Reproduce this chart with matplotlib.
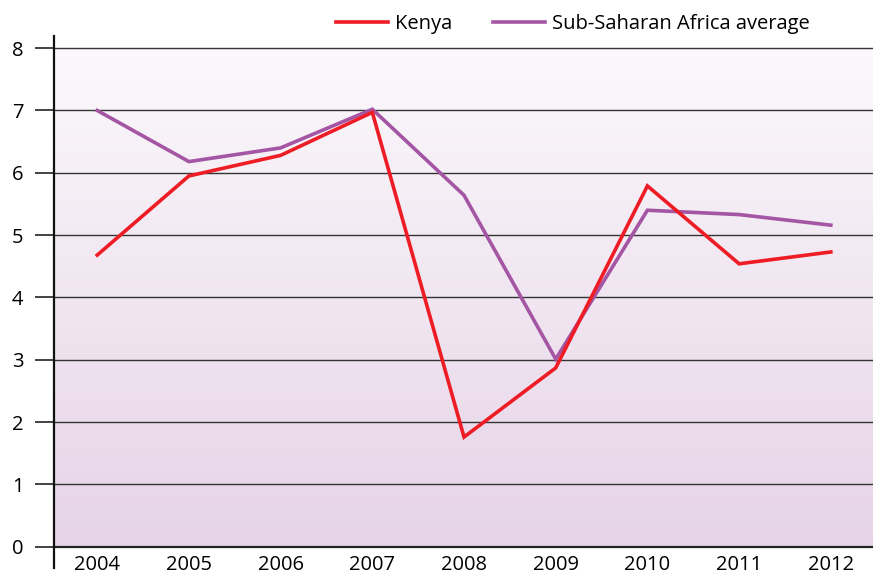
import matplotlib
matplotlib.use('Agg')
import matplotlib.pyplot as plt
import numpy as np
from matplotlib.colors import LinearSegmentedColormap

years = [2004, 2005, 2006, 2007, 2008, 2009, 2010, 2011, 2012]
kenya = [4.68, 5.95, 6.28, 6.97, 1.76, 2.87, 5.79, 4.54, 4.73]
ssa_avg = [7.0, 6.18, 6.40, 7.02, 5.64, 3.01, 5.40, 5.33, 5.16]
yticks = [0, 1, 2, 3, 4, 5, 6, 7, 8]

plt.rcParams['font.family'] = ['Open Sans', 'DejaVu Sans']

fig = plt.figure(figsize=(8.73, 5.76), dpi=100)
ax = fig.add_axes([0.062, 0.014, 0.938, 0.924])

# purple-ish vertical gradient behind the plot
cmap = LinearSegmentedColormap.from_list('bg', ['#e6d3e7', '#fbf9fb'])
grad = np.linspace(0, 1, 256).reshape(-1, 1)
ax.imshow(grad, aspect='auto', cmap=cmap, origin='lower',
          extent=(2003.5, 2012.5, 0, 8), zorder=0)

for v in yticks[1:]:
    ax.axhline(v, color='#333333', lw=1.0, zorder=1)
ax.axhline(0, color='#222222', lw=1.6, zorder=1)

ax.plot(years, ssa_avg, color='#a455a4', lw=2.6, label='Sub-Saharan Africa average',
        zorder=3, solid_joinstyle='miter')
ax.plot(years, kenya, color='#ee1c25', lw=2.6, label='Kenya', zorder=4,
        solid_joinstyle='miter')

ax.set_xlim(2003.53, 2012.46)
ax.set_ylim(-0.34, 8.2)
ax.set_yticks(yticks)
ax.set_xticks(years)
ax.tick_params(axis='y', length=14, width=1.2, labelsize=14.5, pad=8, color='#222222')
ax.tick_params(axis='x', length=0, labelsize=14.5, pad=-9.5)

for s in ['top', 'right', 'bottom']:
    ax.spines[s].set_visible(False)
ax.spines['left'].set_linewidth(1.6)
ax.spines['left'].set_color('#111111')

h, l = ax.get_legend_handles_labels()
fig.legend(h[::-1], l[::-1], loc='center', bbox_to_anchor=(0.656, 0.958), ncol=2,
           frameon=False, fontsize=14.5, handlelength=2.6, columnspacing=2.0,
           handletextpad=0.35)

fig.savefig('out.png', dpi=100, facecolor='white')
